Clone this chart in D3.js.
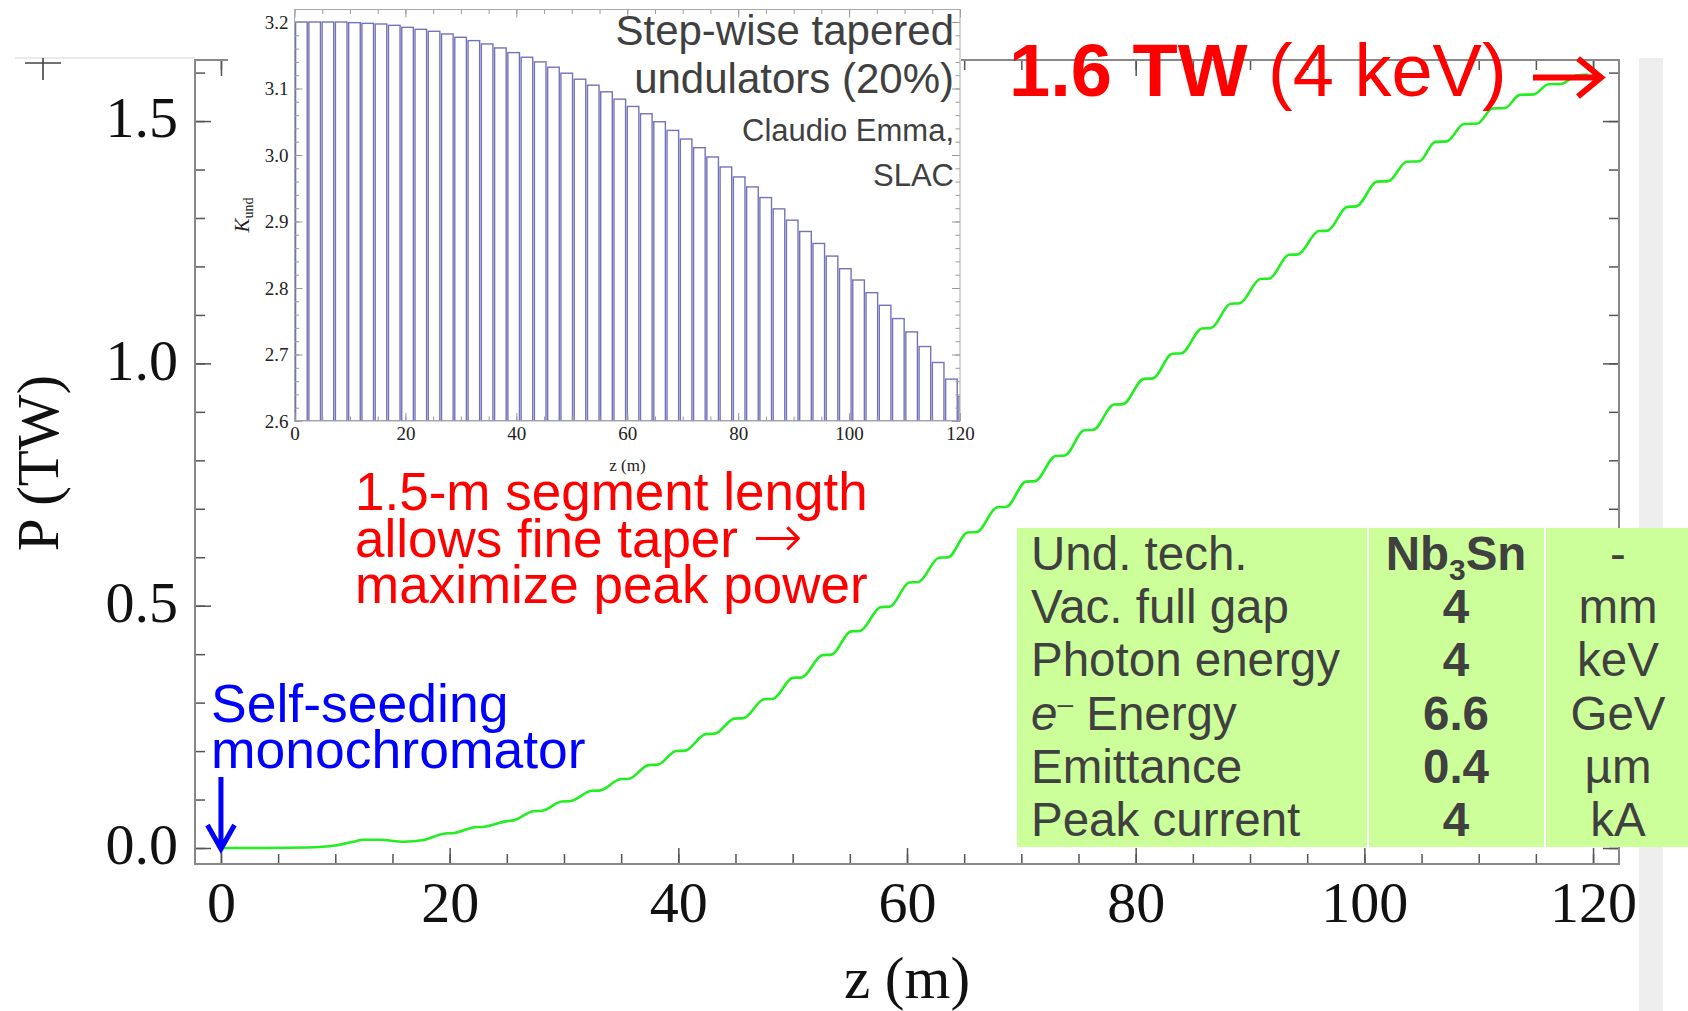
<!DOCTYPE html>
<meta charset="utf-8">

<!-- Load d3.js -->
<script src="https://d3js.org/d3.v7.min.js"></script>

<style type="text/css">
  body { margin: 0; background: #ffffff; }
  svg { display: block; }
</style>

<body>
<!-- Create a div where the graph will take place -->
<div id="my_dataviz"></div>

<script>

// ---- data ----

// main curve: power P (TW) along the undulator z (m), plateau start/end points
var powerZ = [0, 4, 7.5, 10.0, 11.6, 12.4, 13.8, 16.0, 17.6, 19.6, 20.4, 22.2, 23.0, 24.9, 25.6,
  27.3, 28.1, 29.8, 30.6, 32.4, 33.2, 34.9, 35.7, 37.4, 38.2, 39.8, 40.6, 42.4, 43.2, 44.9, 45.7,
  47.5, 48.3, 50.0, 50.8, 52.6, 53.4, 55.1, 55.9, 57.7, 58.5, 60.2, 61.0, 62.8, 63.6, 65.3, 66.1,
  67.9, 68.7, 70.4, 71.2, 73.0, 73.8, 75.5, 76.3, 78.1, 78.9, 80.7, 81.5, 83.2, 84.0, 85.8, 86.6,
  88.3, 89.1, 90.9, 91.7, 93.4, 94.2, 96.0, 96.8, 98.5, 99.3, 101.1, 102.1, 103.7, 104.8,
  106.2, 107.2, 108.7, 109.9, 111.2, 112.3, 113.6, 114.8, 116.1, 117.3, 118.5, 119.6];
var powerP = [0, 0.000, 0.001, 0.005, 0.013, 0.017, 0.017, 0.013, 0.016, 0.030, 0.031, 0.043, 0.044, 0.055, 0.057,
  0.076, 0.077, 0.096, 0.097, 0.118, 0.119, 0.142, 0.143, 0.171, 0.172, 0.200, 0.201, 0.235, 0.236, 0.267, 0.268,
  0.307, 0.308, 0.351, 0.352, 0.398, 0.399, 0.447, 0.448, 0.497, 0.498, 0.548, 0.549, 0.599, 0.600, 0.651, 0.652,
  0.703, 0.704, 0.756, 0.757, 0.809, 0.810, 0.862, 0.863, 0.915, 0.916, 0.968, 0.969, 1.020, 1.021, 1.072, 1.073,
  1.123, 1.124, 1.174, 1.175, 1.224, 1.225, 1.273, 1.274, 1.323, 1.324, 1.375, 1.376, 1.416, 1.417,
  1.457, 1.458, 1.494, 1.495, 1.526, 1.527, 1.554, 1.555, 1.576, 1.577, 1.594, 1.596];

// inset: K of each undulator segment (last one is cut by the frame)
var kUnd = [3.200, 3.200, 3.200, 3.200, 3.199, 3.198, 3.197, 3.195, 3.192, 3.189,
  3.186, 3.182, 3.177, 3.172, 3.167, 3.161, 3.154, 3.147, 3.140, 3.132,
  3.123, 3.114, 3.105, 3.095, 3.084, 3.073, 3.062, 3.050, 3.037, 3.024,
  3.011, 2.997, 2.982, 2.967, 2.952, 2.936, 2.919, 2.902, 2.885, 2.867,
  2.848, 2.829, 2.812, 2.793, 2.774, 2.754, 2.734, 2.712, 2.688, 2.663, 2.637];
var segStart = 0.2, segPeriod = 2.392, segLen = 2.09;   // metres

var xTickVals = [0, 20, 40, 60, 80, 100, 120];
var yTickVals = [0.0, 0.5, 1.0, 1.5];
var insetXTicks = [0, 20, 40, 60, 80, 100, 120];
var insetYTicks = [2.6, 2.7, 2.8, 2.9, 3.0, 3.1, 3.2];

var tableLabels = ["Und. tech.", "Vac. full gap", "Photon energy", "e\u2013 Energy", "Emittance", "Peak current"];
var tableValues = ["Nb3Sn", "4", "4", "6.6", "0.4", "4"];
var tableUnits = ["-", "mm", "keV", "GeV", "\u00b5m", "kA"];

// ---- setup ----
var SANS = "'Liberation Sans', Arial, sans-serif";
var SERIF = "'Liberation Serif', 'Times New Roman', serif";

var svg = d3.select("#my_dataviz")
  .append("svg")
    .attr("width", 1688)
    .attr("height", 1011);

// slide leftovers: faint line, grey strip, crosshair marks
svg.append("line").attr("x1", 15).attr("x2", 195).attr("y1", 58).attr("y2", 58)
  .style("stroke", "#e2e2e2").style("stroke-width", 1.5);
svg.append("rect").attr("x", 1639).attr("y", 58).attr("width", 24).attr("height", 953)
  .style("fill", "#eeeeee");
svg.append("path").attr("d", "M25,63H61M43,58V80").style("stroke", "#444").style("stroke-width", 1.6).style("fill", "none");
svg.append("path").attr("d", "M231,45H246M238.5,37V53").style("stroke", "#777").style("stroke-width", 1).style("fill", "none");

// ---- main plot ----
var frame = {left: 195, right: 1619, top: 60, bottom: 864};

var x = d3.scaleLinear()
  .domain([-2.27, 122.27])
  .range([frame.left, frame.right]);

var y = d3.scaleLinear()
  .domain([-0.033, 1.626])
  .range([frame.bottom, frame.top]);

var xMinor = d3.range(0, 121, 5);
var yMinor = d3.range(0, 16.5, 1).map(function(d) { return d / 10; });

function ticks(g, axis) {
  g.call(axis);
  g.select(".domain").remove();
  g.selectAll(".tick line").style("stroke", "#555").style("stroke-width", 1.5);
}

// minor + major ticks, pointing inwards on all four sides
svg.append("g").attr("transform", "translate(0," + frame.bottom + ")")
  .call(ticks, d3.axisBottom(x).tickValues(xMinor).tickSize(-10).tickFormat(""));
var xAxis = svg.append("g").attr("transform", "translate(0," + frame.bottom + ")")
  .call(ticks, d3.axisBottom(x).tickValues(xTickVals).tickSize(-16).tickPadding(17).tickFormat(d3.format("d")));
svg.append("g").attr("transform", "translate(0," + frame.top + ")")
  .call(ticks, d3.axisTop(x).tickValues(xMinor).tickSize(-10).tickFormat(""));
svg.append("g").attr("transform", "translate(0," + frame.top + ")")
  .call(ticks, d3.axisTop(x).tickValues(xTickVals).tickSize(-16).tickFormat(""));

svg.append("g").attr("transform", "translate(" + frame.left + ",0)")
  .call(ticks, d3.axisLeft(y).tickValues(yMinor).tickSize(-10).tickFormat(""));
var yAxis = svg.append("g").attr("transform", "translate(" + frame.left + ",0)")
  .call(ticks, d3.axisLeft(y).tickValues(yTickVals).tickSize(-16).tickPadding(17).tickFormat(d3.format(".1f")));
svg.append("g").attr("transform", "translate(" + frame.right + ",0)")
  .call(ticks, d3.axisRight(y).tickValues(yMinor).tickSize(-10).tickFormat(""));
svg.append("g").attr("transform", "translate(" + frame.right + ",0)")
  .call(ticks, d3.axisRight(y).tickValues(yTickVals).tickSize(-16).tickFormat(""));

xAxis.selectAll("text").style("font-family", SERIF).style("font-size", "58px").style("fill", "#111");
yAxis.selectAll("text").style("font-family", SERIF).style("font-size", "58px").style("fill", "#111")
  .attr("dy", "0.27em");

svg.append("rect")
  .attr("x", frame.left).attr("y", frame.top)
  .attr("width", frame.right - frame.left).attr("height", frame.bottom - frame.top)
  .style("fill", "none").style("stroke", "#888").style("stroke-width", 2);

// axis titles
svg.append("text")
  .attr("x", 907).attr("y", 998)
  .style("font-family", SERIF).style("font-size", "59px").style("fill", "#111")
  .style("text-anchor", "middle")
  .text("z (m)");
svg.append("text")
  .attr("transform", "translate(58,463) rotate(-90)")
  .style("font-family", SERIF).style("font-size", "59px").style("fill", "#111")
  .style("text-anchor", "middle")
  .text("P (TW)");

// power curve
var line = d3.line()
  .x(function(d) { return x(d[0]); })
  .y(function(d) { return y(d[1]); })
  .curve(d3.curveMonotoneX);

svg.append("path")
  .datum(d3.zip(powerZ, powerP))
  .attr("d", line)
  .style("fill", "none")
  .style("stroke", "#22ee22")
  .style("stroke-width", 2.6);

// ---- inset: K_und per segment ----
var inset = {left: 294.5, right: 960, top: 9.5, bottom: 421};

svg.append("rect").attr("x", 228).attr("y", 0).attr("width", 733).attr("height", 482)
  .style("fill", "#ffffff");

var xi = d3.scaleLinear().domain([0, 120]).range([inset.left, inset.right]);
var yi = d3.scaleLinear().domain([2.6, 3.2188]).range([inset.bottom, inset.top]);

svg.append("clipPath").attr("id", "insetClip")
  .append("rect")
    .attr("x", inset.left).attr("y", inset.top)
    .attr("width", inset.right - inset.left).attr("height", inset.bottom - inset.top);

svg.append("g")
  .attr("clip-path", "url(#insetClip)")
  .selectAll("rect")
  .data(kUnd)
  .enter()
  .append("rect")
    .attr("x", function(d, i) { return xi(segStart + i * segPeriod); })
    .attr("width", function(d, i) { return xi(segStart + i * segPeriod + segLen) - xi(segStart + i * segPeriod); })
    .attr("y", function(d) { return yi(d); })
    .attr("height", function(d) { return yi(2.6) - yi(d); })
    .style("fill", "none")
    .style("stroke", "#7373bb")
    .style("stroke-width", 1.4);

var xiMinor = d3.range(0, 121, 5);
var yiMinor = d3.range(130, 161, 1).map(function(d) { return d / 50; });

function iticks(g, axis) {
  g.call(axis);
  g.select(".domain").remove();
  g.selectAll(".tick line").style("stroke", "#999").style("stroke-width", 1);
}

svg.append("g").attr("transform", "translate(0," + inset.bottom + ")")
  .call(iticks, d3.axisBottom(xi).tickValues(xiMinor).tickSize(-4.5).tickFormat(""));
var xiAxis = svg.append("g").attr("transform", "translate(0," + inset.bottom + ")")
  .call(iticks, d3.axisBottom(xi).tickValues(insetXTicks).tickSize(-8).tickPadding(6).tickFormat(d3.format("d")));
svg.append("g").attr("transform", "translate(0," + inset.top + ")")
  .call(iticks, d3.axisTop(xi).tickValues(xiMinor).tickSize(-4.5).tickFormat(""));
svg.append("g").attr("transform", "translate(0," + inset.top + ")")
  .call(iticks, d3.axisTop(xi).tickValues(insetXTicks).tickSize(-8).tickFormat(""));
svg.append("g").attr("transform", "translate(" + inset.left + ",0)")
  .call(iticks, d3.axisLeft(yi).tickValues(yiMinor).tickSize(-4.5).tickFormat(""));
var yiAxis = svg.append("g").attr("transform", "translate(" + inset.left + ",0)")
  .call(iticks, d3.axisLeft(yi).tickValues(insetYTicks).tickSize(-8).tickPadding(6).tickFormat(d3.format(".1f")));
svg.append("g").attr("transform", "translate(" + inset.right + ",0)")
  .call(iticks, d3.axisRight(yi).tickValues(yiMinor).tickSize(-4.5).tickFormat(""));
svg.append("g").attr("transform", "translate(" + inset.right + ",0)")
  .call(iticks, d3.axisRight(yi).tickValues(insetYTicks).tickSize(-8).tickFormat(""));

xiAxis.selectAll("text").style("font-family", SERIF).style("font-size", "19px").style("fill", "#222");
yiAxis.selectAll("text").style("font-family", SERIF).style("font-size", "19px").style("fill", "#222");

svg.append("rect")
  .attr("x", inset.left).attr("y", inset.top)
  .attr("width", inset.right - inset.left).attr("height", inset.bottom - inset.top)
  .style("fill", "none").style("stroke", "#aaa").style("stroke-width", 1);

svg.append("text")
  .attr("x", 627.5).attr("y", 471)
  .style("font-family", SERIF).style("font-size", "17px").style("fill", "#222")
  .style("text-anchor", "middle")
  .text("z (m)");

var kLabel = svg.append("text")
  .attr("transform", "translate(249,215) rotate(-90)")
  .style("font-family", SERIF).style("fill", "#222")
  .style("text-anchor", "middle");
kLabel.append("tspan").style("font-style", "italic").style("font-size", "21px").text("K");
kLabel.append("tspan").style("font-size", "14px").attr("dy", 4).text("und");

// inset caption
var caption = [
  {t: "Step-wise tapered", y: 45, s: 42},
  {t: "undulators (20%)", y: 93, s: 42},
  {t: "Claudio Emma,", y: 140.5, s: 31},
  {t: "SLAC", y: 185.5, s: 31}
];
svg.append("g").selectAll("text")
  .data(caption)
  .enter()
  .append("text")
    .attr("x", 954)
    .attr("y", function(d) { return d.y; })
    .style("font-family", SANS)
    .style("font-size", function(d) { return d.s + "px"; })
    .style("fill", "#404040")
    .style("text-anchor", "end")
    .text(function(d) { return d.t; });

// ---- annotations ----
var peak = svg.append("text")
  .attr("x", 1009).attr("y", 96)
  .style("font-family", SANS).style("font-size", "74px").style("fill", "#ff0000");
peak.append("tspan").style("font-weight", "bold").text("1.6 TW");
peak.append("tspan").text(" (4 keV)");

svg.append("path")
  .attr("d", "M1533,77.5H1598M1578,58.5L1601,77.5L1578,96.5")
  .style("fill", "none").style("stroke", "#ff0000").style("stroke-width", 6)
  .style("stroke-linecap", "butt").style("stroke-linejoin", "miter");

var segNote = ["1.5-m segment length", "allows fine taper ", "maximize peak power"];
svg.append("g").selectAll("text")
  .data(segNote)
  .enter()
  .append("text")
    .attr("x", 355)
    .attr("y", function(d, i) { return 510 + i * 46.7; })
    .style("font-family", SANS).style("font-size", "53px").style("fill", "#ff0000")
    .each(function(d, i) {
      var t = d3.select(this);
      t.append("tspan").text(d);
      if (i === 1) {
        t.append("tspan")
          .style("font-family", "'DejaVu Sans', sans-serif")
          .style("font-weight", 200)
          .style("font-size", "60px")
          .text("\u2192");
      }
    });

var seedNote = ["Self-seeding", "monochromator"];
svg.append("g").selectAll("text")
  .data(seedNote)
  .enter()
  .append("text")
    .attr("x", 211)
    .attr("y", function(d, i) { return 721.7 + i * 46.6; })
    .style("font-family", SANS).style("font-size", "53.5px").style("fill", "#0000ff")
    .text(function(d) { return d; });

svg.append("path")
  .attr("d", "M" + x(0) + ",777V846M" + (x(0) - 13.5) + ",825L" + x(0) + "," + (y(0) + 1) + "L" + (x(0) + 13.5) + ",825")
  .style("fill", "none").style("stroke", "#0000ff").style("stroke-width", 5)
  .style("stroke-linejoin", "miter");

// ---- parameter table ----
var table = svg.append("g");
table.append("rect")
  .attr("x", 1017).attr("y", 528).attr("width", 671).attr("height", 319)
  .style("fill", "#ccff99");
[1368, 1545].forEach(function(cx) {
  table.append("line").attr("x1", cx).attr("x2", cx).attr("y1", 528).attr("y2", 847)
    .style("stroke", "#ffffff").style("stroke-width", 2);
});

var rowY = d3.scaleLinear().domain([0, 5]).range([570, 836]);

tableLabels.forEach(function(lab, i) {
  var t = table.append("text")
    .attr("x", 1031).attr("y", rowY(i))
    .style("font-family", SANS).style("font-size", "47.5px").style("fill", "#404040");
  if (lab.indexOf("e\u2013") === 0) {
    t.append("tspan").style("font-style", "italic").text("e");
    t.append("tspan").style("font-size", "28px").attr("dy", -17).text("\u2013");
    t.append("tspan").attr("dy", 17).text(lab.slice(2));
  } else {
    t.text(lab);
  }

  var v = table.append("text")
    .attr("x", 1456).attr("y", rowY(i))
    .style("font-family", SANS).style("font-size", "47.5px").style("font-weight", "bold")
    .style("fill", "#404040").style("text-anchor", "middle");
  var m = tableValues[i].match(/^([A-Za-z]+)(\d)([A-Za-z]+)$/);
  if (m) {
    v.append("tspan").text(m[1]);
    v.append("tspan").style("font-size", "30px").attr("dy", 10).text(m[2]);
    v.append("tspan").attr("dy", -10).text(m[3]);
  } else {
    v.text(tableValues[i]);
  }

  table.append("text")
    .attr("x", 1618).attr("y", rowY(i))
    .style("font-family", SANS).style("font-size", "47.5px")
    .style("fill", "#404040").style("text-anchor", "middle")
    .text(tableUnits[i]);
});

</script>
</body>
